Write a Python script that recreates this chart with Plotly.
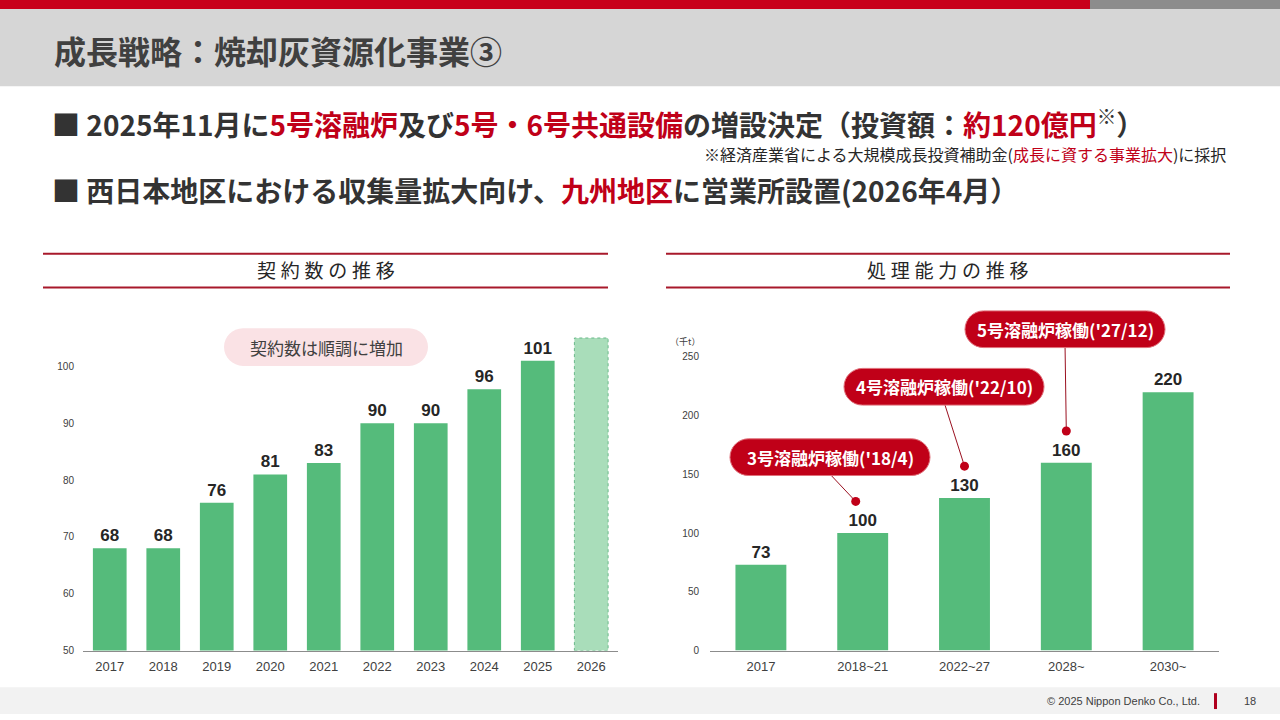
import plotly.graph_objects as go

# ---------------- data ----------------
contract_years = ["2017", "2018", "2019", "2020", "2021", "2022", "2023", "2024", "2025", "2026"]
contract_counts = [68, 68, 76, 81, 83, 90, 90, 96, 101]
contract_plan_2026 = [105]
contract_ticks = [50, 60, 70, 80, 90, 100]

capacity_periods = ["2017", "2018~21", "2022~27", "2028~", "2030~"]
capacity_values = [73, 100, 130, 160, 220]
capacity_ticks = [0, 50, 100, 150, 200, 250]

furnace_labels = ["3号溶融炉稼働('18/4)", "4号溶融炉稼働('22/10)", "5号溶融炉稼働('27/12)"]
furnace_bar_index = [1, 2, 3]

# ---------------- geometry helpers ----------------
W, H = 1280, 720
def px(x): return x / W
def py(y): return 1 - y / H

RED = "#C00018"
TXT = "#404040"
GREEN = "#55BB7B"
GREEN_LIGHT = "#A9DDBA"
JP = "Noto Sans CJK JP"
LAT = "Liberation Sans"

# left axis geometry (pixels)
L_X0, L_X1, L_YB = 83, 618, 656
L_RANGE = (50, 106)
L_PPU = 5.73
L_YT = L_YB - (L_RANGE[1] - L_RANGE[0]) * L_PPU
# right axis geometry
R_X0, R_X1, R_YB = 710, 1219, 656
R_RANGE = (0, 260)
R_PPU = 1.184
R_YT = R_YB - (R_RANGE[1] - R_RANGE[0]) * R_PPU

def r_x(idx):
    step = (R_X1 - R_X0) / len(capacity_periods)
    return R_X0 + step * (idx + 0.5)
def r_y(v):
    return R_YB - (v - R_RANGE[0]) * R_PPU

def pill_path(x0, y0, x1, y1):
    r = (y1 - y0) / 2
    k = 0.5523 * r
    ym = (y0 + y1) / 2
    pts = [
        ("M", [(x0 + r, y0)]),
        ("L", [(x1 - r, y0)]),
        ("C", [(x1 - r + k, y0), (x1, ym - k), (x1, ym)]),
        ("C", [(x1, ym + k), (x1 - r + k, y1), (x1 - r, y1)]),
        ("L", [(x0 + r, y1)]),
        ("C", [(x0 + r - k, y1), (x0, ym + k), (x0, ym)]),
        ("C", [(x0, ym - k), (x0 + r - k, y0), (x0 + r, y0)]),
    ]
    s = ""
    for cmd, ps in pts:
        s += cmd + " " + " ".join(f"{px(a):.5f},{py(b):.5f}" for a, b in ps) + " "
    return s + "Z"

fig = go.Figure()

# ---------------- bars ----------------
fig.add_trace(go.Bar(
    x=contract_years[:len(contract_counts)], y=contract_counts,
    marker=dict(color=GREEN, line=dict(width=0)), width=0.63,
    text=contract_counts, texttemplate="<b>%{text}</b>", textposition="outside",
    textfont=dict(family=LAT, size=17, color="#262626"), cliponaxis=False,
    xaxis="x", yaxis="y", hoverinfo="skip"))
fig.add_trace(go.Bar(
    x=contract_years[len(contract_counts):], y=contract_plan_2026,
    marker=dict(color=GREEN_LIGHT, line=dict(width=0)), width=0.63,
    xaxis="x", yaxis="y", hoverinfo="skip"))
fig.add_trace(go.Bar(
    x=capacity_periods, y=capacity_values,
    marker=dict(color=GREEN, line=dict(width=0)), width=0.5,
    text=capacity_values, texttemplate="<b>%{text}</b>", textposition="outside",
    textfont=dict(family=LAT, size=17, color="#262626"), cliponaxis=False,
    xaxis="x2", yaxis="y2", hoverinfo="skip"))

shapes = []
annotations = []

# dashed outline for 2026 plan bar
i26 = len(contract_counts)
shapes.append(dict(type="rect", xref="x", yref="y", x0=i26 - 0.315, x1=i26 + 0.315,
                   y0=L_RANGE[0], y1=contract_plan_2026[0],
                   line=dict(color="#6BB98A", width=1, dash="dot"), layer="above"))

# ---------------- slide decorations ----------------
shapes += [
    dict(type="rect", xref="paper", yref="paper", x0=0, x1=px(1090), y0=py(9), y1=py(0),
         fillcolor="#C8001A", line=dict(width=0), layer="below"),
    dict(type="rect", xref="paper", yref="paper", x0=px(1090), x1=1, y0=py(9), y1=py(0),
         fillcolor="#8C8C8C", line=dict(width=0), layer="below"),
    dict(type="rect", xref="paper", yref="paper", x0=0, x1=1, y0=py(87), y1=py(9),
         fillcolor="#D6D6D6", line=dict(width=0), layer="below"),
    dict(type="rect", xref="paper", yref="paper", x0=0, x1=1, y0=0, y1=py(693),
         fillcolor="#F2F2F2", line=dict(width=0), layer="below"),
    dict(type="rect", xref="paper", yref="paper", x0=px(1214), x1=px(1217), y0=py(715), y1=py(699),
         fillcolor="#B0001E", line=dict(width=0)),
]
for (x0, x1) in [(43, 608), (666, 1230)]:
    for yy in (256, 290):
        shapes.append(dict(type="line", xref="paper", yref="paper", x0=px(x0), x1=px(x1),
                           y0=py(yy), y1=py(yy), line=dict(color="#A8192B", width=2)))

# title
annotations.append(dict(text="<b>成長戦略：焼却灰資源化事業③</b>", x=px(52), y=py(50),
                        xref="paper", yref="paper", xanchor="left", yanchor="middle",
                        showarrow=False, font=dict(family=JP, size=32, color=TXT)))
# bullets
R = f"color:{RED}"
line1 = (f"■ 2025年11月に<span style='{R}'>5号溶融炉</span>及び<span style='{R}'>5号・6号共通設備</span>"
         f"の増設決定（投資額：<span style='{R}'>約120億円</span><sup>※</sup>）")
line3 = f"■ 西日本地区における収集量拡大向け、<span style='{R}'>九州地区</span>に営業所設置(2026年4月）"
note = f"※経済産業省による大規模成長投資補助金(<span style='{R}'>成長に資する事業拡大</span>)に採択"
annotations.append(dict(text=f"<b>{line1}</b>", x=px(50), y=py(124), xref="paper", yref="paper",
                        xanchor="left", yanchor="middle", showarrow=False,
                        font=dict(family=JP, size=28, color="#333333")))
annotations.append(dict(text=note, x=px(1228), y=py(155), xref="paper", yref="paper",
                        xanchor="right", yanchor="middle", showarrow=False,
                        font=dict(family=JP, size=16, color="#262626")))
annotations.append(dict(text=f"<b>{line3}</b>", x=px(50), y=py(192), xref="paper", yref="paper",
                        xanchor="left", yanchor="middle", showarrow=False,
                        font=dict(family=JP, size=28, color="#333333")))

# chart headers
sp = "\u2005"
for txt, cx in [("契約数の推移", 326), ("処理能力の推移", 948)]:
    annotations.append(dict(text=sp.join(txt), x=px(cx), y=py(272), xref="paper", yref="paper",
                            xanchor="center", yanchor="middle", showarrow=False,
                            font=dict(family=JP, size=19, color="#262626")))

# left callout pill
shapes.append(dict(type="path", xref="paper", yref="paper", path=pill_path(224, 331, 428, 369),
                   fillcolor="#FAE2E5", line=dict(width=0)))
annotations.append(dict(text="契約数は順調に増加", x=px(326), y=py(350), xref="paper", yref="paper",
                        xanchor="center", yanchor="middle", showarrow=False,
                        font=dict(family=JP, size=17, color=TXT)))

# right unit label
annotations.append(dict(text="（千t）", x=px(668), y=py(344), xref="paper", yref="paper",
                        xanchor="left", yanchor="middle", showarrow=False,
                        font=dict(family=JP, size=9, color=TXT)))

# furnace callouts
pill_centers = [(830, 461), (944, 390), (1065, 332)]
pill_w, pill_h = 200, 37
for lab, bi, (cx, cy) in zip(furnace_labels, furnace_bar_index, pill_centers):
    dx = r_x(bi) - (7 if bi == 1 else 0)
    dy = r_y(capacity_values[bi] + 27)
    shapes.append(dict(type="line", xref="paper", yref="paper", x0=px(cx + (dx - cx) * 0.05),
                       y0=py(cy + pill_h / 2), x1=px(dx), y1=py(dy),
                       line=dict(color="#9A1020", width=1)))
    shapes.append(dict(type="circle", xref="paper", yref="paper", x0=px(dx - 4.5), x1=px(dx + 4.5),
                       y0=py(dy + 4.5), y1=py(dy - 4.5), fillcolor=RED, line=dict(width=0)))
    shapes.append(dict(type="path", xref="paper", yref="paper",
                       path=pill_path(cx - pill_w / 2, cy - pill_h / 2, cx + pill_w / 2, cy + pill_h / 2),
                       fillcolor=RED, line=dict(color="#E0707A", width=1)))
    annotations.append(dict(text=f"<b>{lab}</b>", x=px(cx), y=py(cy), xref="paper", yref="paper",
                            xanchor="center", yanchor="middle", showarrow=False,
                            font=dict(family=JP, size=17, color="white")))

# footer
annotations.append(dict(text="© 2025 Nippon Denko Co., Ltd.", x=px(1202), y=py(707), xref="paper", yref="paper",
                        xanchor="right", yanchor="middle", showarrow=False,
                        font=dict(family=LAT, size=11, color=TXT)))
annotations.append(dict(text="18", x=px(1250), y=py(707), xref="paper", yref="paper",
                        xanchor="center", yanchor="middle", showarrow=False,
                        font=dict(family=LAT, size=11, color=TXT)))

axis_common = dict(showgrid=False, zeroline=False, fixedrange=True)
fig.update_layout(
    width=W, height=H, margin=dict(l=0, r=0, t=0, b=0),
    paper_bgcolor="white", plot_bgcolor="rgba(0,0,0,0)",
    showlegend=False, barmode="overlay",
    font=dict(family=LAT, color=TXT),
    xaxis=dict(domain=[px(L_X0), px(L_X1)], type="category", categoryorder="array",
               categoryarray=contract_years, range=[-0.5, len(contract_years) - 0.5],
               showline=True, linecolor="#8C8C8C", linewidth=1, ticks="", ticklabelstandoff=4,
               tickfont=dict(family=LAT, size=13, color=TXT), anchor="y", **axis_common),
    yaxis=dict(domain=[py(L_YB), py(L_YT)], range=list(L_RANGE), tickvals=contract_ticks,
               showline=False, ticks="", ticklabelstandoff=8,
               tickfont=dict(family=LAT, size=10, color=TXT), anchor="x", **axis_common),
    xaxis2=dict(domain=[px(R_X0), px(R_X1)], type="category", categoryorder="array",
                categoryarray=capacity_periods, range=[-0.5, len(capacity_periods) - 0.5],
                showline=True, linecolor="#8C8C8C", linewidth=1, ticks="", ticklabelstandoff=4,
                tickfont=dict(family=LAT, size=13, color=TXT), anchor="y2", **axis_common),
    yaxis2=dict(domain=[py(R_YB), py(R_YT)], range=list(R_RANGE), tickvals=capacity_ticks,
                showline=False, ticks="", ticklabelstandoff=10,
                tickfont=dict(family=LAT, size=10, color=TXT), anchor="x2", **axis_common),
    shapes=shapes, annotations=annotations,
)

fig.write_html("out.html", config={"displayModeBar": False})
